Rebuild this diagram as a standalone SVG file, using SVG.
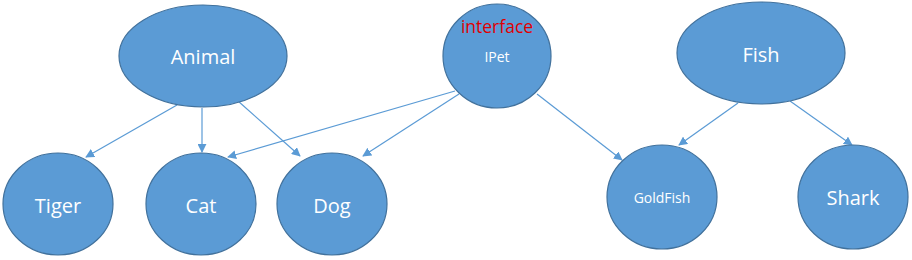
<svg xmlns="http://www.w3.org/2000/svg" width="912" height="260" viewBox="0 0 912 260">
<style>
.node{fill:#5B9BD5;stroke:#41719C;stroke-width:1.2}
.lbl{fill:#ffffff;font-family:"Open Sans","Liberation Sans",sans-serif;font-size:20px;text-anchor:middle}
.sm{font-size:14px}
.red{fill:#E00000;font-family:"Open Sans","Liberation Sans",sans-serif;font-size:17.5px;text-anchor:middle}
.edge{stroke:#5B9BD5;stroke-width:1.2;fill:none;marker-end:url(#ah)}
</style>
<defs>
<marker id="ah" viewBox="0 0 10 10" refX="9" refY="5" markerWidth="9" markerHeight="9" markerUnits="userSpaceOnUse" orient="auto">
<path d="M0,0 L10,5 L0,10 z" fill="#5B9BD5"/>
</marker>
</defs>
<rect width="912" height="260" fill="#ffffff"/>
<g id="connectors">
<line class="edge" x1="177" y1="105" x2="86" y2="157"/>
<line class="edge" x1="202" y1="108" x2="202" y2="152"/>
<line class="edge" x1="238" y1="101" x2="300" y2="156"/>
<line class="edge" x1="455" y1="91" x2="228" y2="157"/>
<line class="edge" x1="459" y1="94" x2="363" y2="156"/>
<line class="edge" x1="537" y1="94" x2="622" y2="160"/>
<line class="edge" x1="738" y1="103" x2="679" y2="145"/>
<line class="edge" x1="790" y1="101" x2="852" y2="145"/>
</g>
<g id="Animal">
<ellipse class="node" cx="203" cy="56" rx="84" ry="51"/>
<text class="lbl" x="203" y="64">Animal</text>
</g>
<g id="IPet">
<ellipse class="node" cx="497" cy="56" rx="54" ry="52"/>
<text class="red" x="497" y="33">interface</text>
<text class="lbl sm" x="497" y="62">IPet</text>
</g>
<g id="Fish">
<ellipse class="node" cx="761" cy="53" rx="84" ry="51"/>
<text class="lbl" x="761" y="62">Fish</text>
</g>
<g id="Tiger">
<ellipse class="node" cx="58" cy="204" rx="55" ry="51"/>
<text class="lbl" x="58" y="213">Tiger</text>
</g>
<g id="Cat">
<ellipse class="node" cx="201" cy="204" rx="55" ry="51"/>
<text class="lbl" x="201" y="213">Cat</text>
</g>
<g id="Dog">
<ellipse class="node" cx="332" cy="204" rx="55" ry="51"/>
<text class="lbl" x="332" y="213">Dog</text>
</g>
<g id="GoldFish">
<ellipse class="node" cx="662" cy="197" rx="55" ry="52"/>
<text class="lbl sm" x="662" y="203">GoldFish</text>
</g>
<g id="Shark">
<ellipse class="node" cx="853" cy="197" rx="55" ry="52"/>
<text class="lbl" x="853" y="205">Shark</text>
</g>
</svg>
